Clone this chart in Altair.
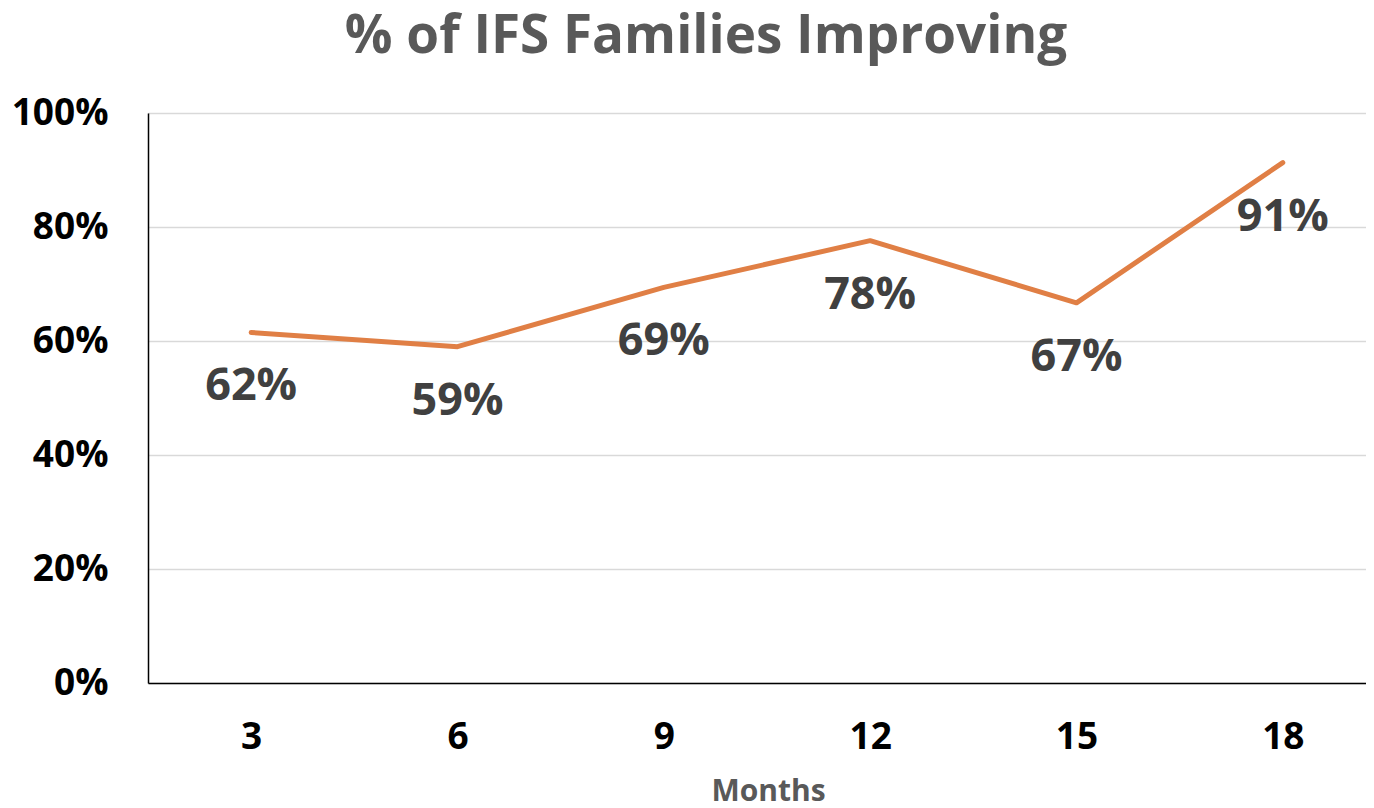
import altair as alt
import pandas as pd

months = [3, 6, 9, 12, 15, 18]
values = [0.615, 0.590, 0.694, 0.776, 0.667, 0.913]
labels = ["62%", "59%", "69%", "78%", "67%", "91%"]

df = pd.DataFrame({"month": months, "value": values, "label": labels})

FONT = "Open Sans"

x = alt.X("month:Q", title="Months",
          scale=alt.Scale(domain=[1.5, 19.21], nice=False, zero=False),
          axis=alt.Axis(values=months, format="d", grid=False,
                        labelAngle=0, labelFontSize=37, labelFontWeight="bold",
                        labelColor="#000000", labelPadding=36, ticks=False,
                        domainColor="#000000", domainWidth=1.5,
                        titleFontSize=30, titleFontWeight="bold", titleColor="#595959",
                        titlePadding=21, titleX=620, labelFont=FONT, titleFont=FONT))
y = alt.Y("value:Q", title=None,
          scale=alt.Scale(domain=[0, 1], nice=False),
          axis=alt.Axis(values=[0, 0.2, 0.4, 0.6, 0.8, 1.0], format=".0%",
                        labelFontSize=37, labelFontWeight="bold", labelColor="#000000",
                        labelPadding=40, ticks=False, domainColor="#000000", domainWidth=1.5,
                        gridColor="#d9d9d9", gridWidth=1.5, labelFont=FONT))

line = alt.Chart(df).mark_line(color="#E07F45", strokeWidth=5, strokeCap="round",
                               strokeJoin="round").encode(x=x, y=y)
text = alt.Chart(df).mark_text(dy=54, fontSize=45, fontWeight="bold", color="#404040",
                               font=FONT).encode(x=x, y=y, text="label:N")

chart = (line + text).properties(
    width=1218, height=570,
    title=alt.TitleParams("% of IFS Families Improving", fontSize=53, fontWeight="bold",
                          color="#595959", font=FONT, anchor="middle", dx=-51, offset=30),
    padding={"left": 140, "top": 105, "right": 0, "bottom": 125},
    autosize=alt.AutoSizeParams(type="none"),
).configure_view(stroke=None).configure(background="white")

chart.save("out.html", embed_options={"renderer": "svg", "actions": False})
